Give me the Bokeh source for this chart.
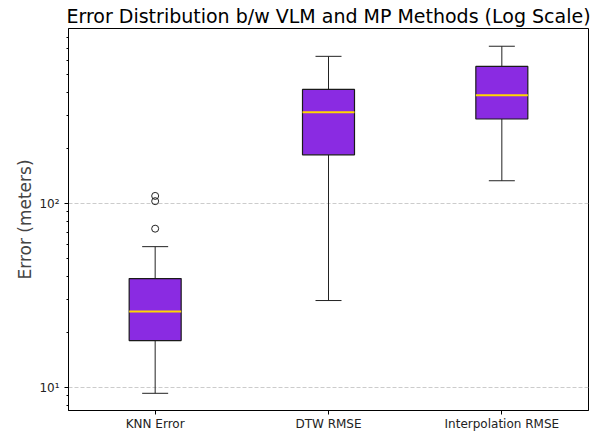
from bokeh.plotting import figure
from bokeh.models import FixedTicker, Range1d, ColumnDataSource
from bokeh.embed import file_html
from bokeh.resources import INLINE

methods = ["KNN Error", "DTW RMSE", "Interpolation RMSE"]
positions = [1, 2, 3]
whisker_low = [9.3, 29.7, 133.0]
q1 = [18.0, 184.0, 288.0]
median = [25.9, 313.0, 388.0]
q3 = [39.1, 417.0, 556.0]
whisker_high = [58.3, 631.0, 716.0]
outlier_pos = [1, 1, 1]
outlier_vals = [73.0, 103.0, 110.0]

box_w = 0.30
cap_w = 0.15

p = figure(width=600, height=433, output_backend="svg", toolbar_location=None,
           y_axis_type="log", x_range=Range1d(0.5, 3.5), y_range=Range1d(7.5, 894),
           min_border_left=68, min_border_right=12, min_border_bottom=20, min_border_top=0)

p.title.text = "Error Distribution b/w VLM and MP Methods (Log Scale)"
p.title.text_font = "DejaVu Sans"
p.title.text_font_size = "19px"
p.title.text_font_style = "normal"
p.title.align = "center"
p.title.text_color = "black"
p.title.standoff = 4

src = ColumnDataSource(dict(x=positions, lo=whisker_low, q1=q1, med=median, q3=q3, hi=whisker_high,
                            xl=[v - box_w / 2 for v in positions], xr=[v + box_w / 2 for v in positions],
                            cl=[v - cap_w / 2 for v in positions], cr=[v + cap_w / 2 for v in positions]))

# whiskers
p.segment(x0="x", y0="lo", x1="x", y1="q1", source=src, line_color="#222222", line_width=1)
p.segment(x0="x", y0="q3", x1="x", y1="hi", source=src, line_color="#222222", line_width=1)
# caps
p.segment(x0="cl", y0="lo", x1="cr", y1="lo", source=src, line_color="#222222", line_width=1)
p.segment(x0="cl", y0="hi", x1="cr", y1="hi", source=src, line_color="#222222", line_width=1)
# boxes
p.vbar(x="x", width=box_w, bottom="q1", top="q3", source=src, fill_color="#8a2be2",
       line_color="#1a1a1a", line_width=1.2)
# medians
p.segment(x0="xl", y0="med", x1="xr", y1="med", source=src, line_color="#ffd700", line_width=2)
# outliers
p.scatter(outlier_pos, outlier_vals, size=7, fill_color=None, line_color="#222222", line_width=1)

p.xaxis.ticker = FixedTicker(ticks=positions)
p.xaxis.major_label_overrides = {pos: m for pos, m in zip(positions, methods)}
p.xaxis.major_label_standoff = 2

minor = [m * d for d in [1, 10, 100] for m in range(2, 10)]
p.yaxis.ticker = FixedTicker(ticks=[10, 100], minor_ticks=minor)
p.yaxis.major_label_overrides = {10: "10¹", 100: "10²"}
p.yaxis.axis_label = "Error (meters)"
p.yaxis.axis_label_text_font = "DejaVu Sans"
p.yaxis.axis_label_text_font_size = "17px"
p.yaxis.axis_label_text_font_style = "normal"
p.yaxis.axis_label_standoff = 1

for ax in [p.xaxis, p.yaxis]:
    ax.major_label_text_font = "DejaVu Sans"
    ax.major_label_text_font_size = "12px"
    ax.major_label_text_color = "#222222"
    ax.axis_line_color = "black"
    ax.major_tick_line_color = "black"
    ax.minor_tick_line_color = "black"
    ax.major_tick_out = 4
    ax.major_tick_in = 0
    ax.minor_tick_out = 2
    ax.minor_tick_in = 0
p.xaxis.minor_tick_line_color = None

p.xgrid.grid_line_color = None
p.ygrid.grid_line_color = "#cccccc"
p.ygrid.grid_line_dash = "4 2"
p.ygrid.grid_line_width = 1
p.ygrid.minor_grid_line_color = None

p.outline_line_color = "black"
p.outline_line_width = 1

open("out.html", "w").write(file_html(p, INLINE))
